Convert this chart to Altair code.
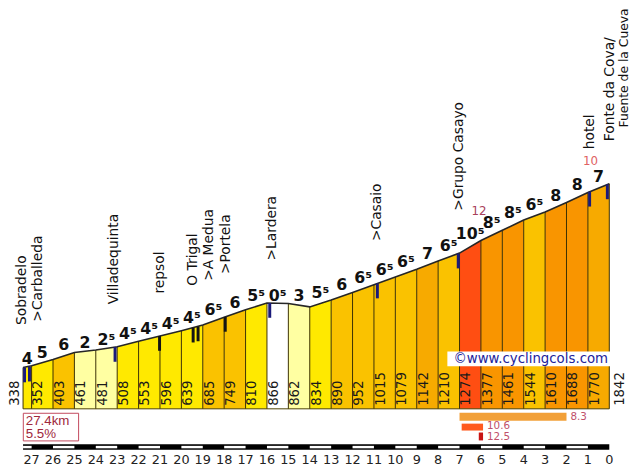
import altair as alt
import pandas as pd

# ---------------- data ----------------
km_points = [27.4, 27, 26, 25, 24, 23, 22, 21, 20, 19, 18, 17, 16, 15, 14,
             13, 12, 11, 10, 9, 8, 7, 6, 5, 4, 3, 2, 1, 0]
altitudes = [338, 352, 403, 461, 481, 508, 553, 596, 639, 685, 749, 810, 866,
             862, 834, 890, 952, 1015, 1079, 1142, 1210, 1274, 1377, 1461,
             1544, 1610, 1688, 1770, 1842]
grade_labels = ["4", "5", "6", "2", "2⁵", "4⁵", "4⁵", "4⁵", "4⁵", "6⁵", "6",
                "5⁵", "0⁵", "3", "5⁵", "6", "6⁵", "6⁵", "6⁵", "7", "6⁵",
                "10⁵", "8⁵", "8⁵", "6⁵", "8", "8", "7"]
grade_class = ["y", "y", "g", "p", "p", "y", "y", "y", "y", "g", "g", "y",
               "w", "p", "y", "g", "g", "g", "g", "a", "g", "r", "o", "o",
               "g", "o", "o", "a"]
km_ticks = [27, 26, 25, 24, 23, 22, 21, 20, 19, 18, 17, 16, 15, 14, 13, 12,
            11, 10, 9, 8, 7, 6, 5, 4, 3, 2, 1, 0]

place_names = ["Sobradelo", ">Carballeda", "Villadequinta", "repsol",
               "O Trigal", ">A Medua", ">Portela", ">Lardera", ">Casaio",
               ">Grupo Casayo", "hotel", "Fonte da Cova/"]
place_km = [27.46, 26.72, 23.13, 21.0, 19.47, 18.69, 17.9, 15.78, 10.84,
            7.0, 0.92, -0.05]
place_alt = [338, 366, 508, 596, 660, 700, 755, 866, 1025, 1274, 1776, 1842]
summit_second_line = "Fuente de la Cueva"

marker_km = [27.33, 27.1, 23.1, 21.02, 19.45, 19.22, 17.95, 15.87, 10.84,
             7.06, 0.92, 0.09]
marker_alt = [338, 345, 506, 596, 664, 674, 752, 866, 1025, 1270, 1776, 1836]
marker_kind = ["navy", "navy", "navy", "black", "black", "black", "black",
               "navy", "navy", "navy", "navy", "navy"]

peak_labels = ["12", "10"]
peak_km = [6.09, 0.88]
peak_alt = [1368, 1779]

steep_labels = ["8.3", "10.6", "12.5"]
steep_from = [7.0, 6.9, 6.1]
steep_to = [2.0, 5.9, 5.9]

summary_lines = ["27.4km", "5.5%"]
credit = "©www.cyclingcols.com"

# ---------------- styles / layout ----------------
PALETTE = {"w": "#FFFFFF", "p": "#FFFFA2", "y": "#FFE900", "g": "#FAC200",
           "a": "#F7AA00", "o": "#F99500", "r": "#FF4E12"}
MARKER_COLOURS = {"navy": "#1B1B7A", "black": "#141414"}
PEAK_COLOURS = ["#A8405A", "#E06262"]
STEEP_COLOURS = ["#F2A038", "#FF5A1E", "#C81414"]
STEEP_Y = [(407, 415), (418, 425), (427, 435)]
STEEP_TEXT_Y = [411, 420, 431.5]

W, H = 632, 462
PX_KM = 21.67
PX_M = 0.1238
X_KM0 = 609.0
Y_BASE = 403.0
x_dom = [(X_KM0 - W) / PX_KM, X_KM0 / PX_KM]
y_dom = [(Y_BASE - H) / PX_M, Y_BASE / PX_M]
XS = alt.Scale(domain=x_dom, reverse=True, nice=False, zero=False)
YS = alt.Scale(domain=y_dom, nice=False, zero=False)
FONT = "DejaVu Sans"


def X(f, **kw):
    return alt.X(f, type="quantitative", scale=XS, axis=None, **kw)


def Y(f, **kw):
    return alt.Y(f, type="quantitative", scale=YS, axis=None, **kw)


# ---------------- frames ----------------
seg_rows = []
for i in range(len(grade_labels)):
    for j in (i, i + 1):
        seg_rows.append({"seg": i, "km": km_points[j], "alt": altitudes[j],
                         "base": 0, "col": PALETTE[grade_class[i]]})
seg_df = pd.DataFrame(seg_rows)

prof_df = pd.DataFrame({"km": km_points, "alt": altitudes,
                        "base": [0] * len(km_points)})

grade_df = pd.DataFrame({
    "km": [(km_points[i] + km_points[i + 1]) / 2 for i in range(len(grade_labels))],
    "alt": [max(altitudes[i], altitudes[i + 1]) for i in range(len(grade_labels))],
    "label": grade_labels,
})

inner_df = pd.DataFrame({"km": km_points[1:-1],
                         "label": [str(a) for a in altitudes[1:-1]]})
first_df = pd.DataFrame({"km": [km_points[0]], "label": [str(altitudes[0])]})
last_df = pd.DataFrame({"km": [km_points[-1]], "label": [str(altitudes[-1])]})

place_df = pd.DataFrame({"km": place_km, "alt": place_alt, "label": place_names})
fuente_df = pd.DataFrame({"km": [place_km[-1]], "alt": [place_alt[-1]],
                          "label": [summit_second_line]})

marker_df = pd.DataFrame({"km": marker_km, "alt": marker_alt,
                          "alt2": [a - 15 / PX_M for a in marker_alt],
                          "col": [MARKER_COLOURS[k] for k in marker_kind]})

peak_df = pd.DataFrame({"km": peak_km, "alt": peak_alt, "label": peak_labels,
                        "col": PEAK_COLOURS})

tick_df = pd.DataFrame({"km": km_ticks, "label": [str(k) for k in km_ticks]})

white_pairs = [(km_points[0], km_points[1])] + [
    (k, k - 1) for k in km_ticks if k % 2 == 0 and k > 0]
white_df = pd.DataFrame({"a": [p[0] for p in white_pairs],
                         "b": [p[1] for p in white_pairs]})
bar_df = pd.DataFrame({"a": [km_points[0]], "b": [km_points[-1]], "base": [0]})

# ---------------- layers ----------------
layers = []

layers.append(alt.Chart(seg_df).mark_area(opacity=1).encode(
    x=X("km"), y=Y("alt", stack=None), y2="base",
    color=alt.Color("col:N", scale=None), detail="seg:N"))

layers.append(alt.Chart(prof_df).mark_rule(color="#3a3000", strokeWidth=1).encode(
    x=X("km"), y=Y("alt"), y2="base"))

layers.append(alt.Chart(bar_df).mark_rule(color="#4a4000", strokeWidth=1).encode(
    x=X("a"), x2="b", y=Y("base")))

layers.append(alt.Chart(prof_df).mark_line(color="#262626", strokeWidth=1.6).encode(
    x=X("km"), y=Y("alt")))

alt_text = dict(angle=270, align="left", baseline="middle", fontSize=13.5,
                font=FONT, color="#1a1a1a")
layers.append(alt.Chart(inner_df).mark_text(dy=7, **alt_text).encode(
    x=X("km"), y=alt.value(400), text="label:N"))
layers.append(alt.Chart(first_df).mark_text(dy=-8, **alt_text).encode(
    x=X("km"), y=alt.value(400), text="label:N"))
layers.append(alt.Chart(last_df).mark_text(dy=11, **alt_text).encode(
    x=X("km"), y=alt.value(400), text="label:N"))

layers.append(alt.Chart(grade_df).mark_text(
    fontWeight="bold", fontSize=16, font=FONT, baseline="alphabetic", dy=-2,
    color="#111111").encode(x=X("km"), y=Y("alt"), text="label:N"))

place_text = dict(angle=270, align="left", baseline="middle",
                  font=FONT, color="#111111")
layers.append(alt.Chart(place_df).mark_text(dx=43, fontSize=14, **place_text).encode(
    x=X("km"), y=Y("alt"), text="label:N"))
layers.append(alt.Chart(fuente_df).mark_text(dx=57, dy=14, fontSize=12.5,
                                             **place_text).encode(
    x=X("km"), y=Y("alt"), text="label:N"))

layers.append(alt.Chart(marker_df).mark_rule(strokeWidth=3).encode(
    x=X("km"), y=Y("alt"), y2="alt2", color=alt.Color("col:N", scale=None)))

layers.append(alt.Chart(peak_df).mark_text(fontSize=12, font=FONT, dy=-31,
                                           baseline="middle").encode(
    x=X("km"), y=Y("alt"), text="label:N", color=alt.Color("col:N", scale=None)))

credit_df = pd.DataFrame({"t": [credit]})
layers.append(alt.Chart(credit_df).mark_rect(color="white").encode(
    x=alt.value(445), x2=alt.value(614), y=alt.value(345), y2=alt.value(360)))
layers.append(alt.Chart(credit_df).mark_text(
    fontSize=13.5, font=FONT, color="#22229A", baseline="middle").encode(
    x=alt.value(529.5), y=alt.value(352.5), text="t:N"))

for i in range(len(steep_labels)):
    sdf = pd.DataFrame({"a": [steep_from[i]], "b": [steep_to[i]],
                        "label": [steep_labels[i]]})
    layers.append(alt.Chart(sdf).mark_rect(color=STEEP_COLOURS[i]).encode(
        x=X("a"), x2="b", y=alt.value(STEEP_Y[i][0]), y2=alt.value(STEEP_Y[i][1])))
    layers.append(alt.Chart(sdf).mark_text(
        align="left", baseline="middle", dx=4, fontSize=10.5, font=FONT,
        color="#C0506A").encode(x=X("b"), y=alt.value(STEEP_TEXT_Y[i]),
                               text="label:N"))

layers.append(alt.Chart(pd.DataFrame({"t": [summary_lines[0]]})).mark_rect(
    fill="white", stroke="#C2485C", strokeWidth=1).encode(
    x=alt.value(15.5), x2=alt.value(71.5), y=alt.value(407.5), y2=alt.value(435.5)))
layers.append(alt.Chart(pd.DataFrame({"t": [summary_lines[0]]})).mark_text(
    align="left", baseline="middle", fontSize=13.5, font="Liberation Sans",
    color="#A0283C").encode(x=alt.value(18), y=alt.value(415), text="t:N"))
layers.append(alt.Chart(pd.DataFrame({"t": [summary_lines[1]]})).mark_text(
    align="left", baseline="middle", fontSize=13.5, font="Liberation Sans",
    color="#A0283C").encode(x=alt.value(18), y=alt.value(429), text="t:N"))

layers.append(alt.Chart(bar_df).mark_rect(color="#000000").encode(
    x=X("a"), x2="b", y=alt.value(439), y2=alt.value(444.5)))
layers.append(alt.Chart(white_df).mark_rect(color="#FFFFFF").encode(
    x=X("a"), x2="b", y=alt.value(440.5), y2=alt.value(443)))

layers.append(alt.Chart(tick_df).mark_text(
    fontSize=13, font=FONT, color="#222222", baseline="middle").encode(
    x=X("km"), y=alt.value(455), text="label:N"))

chart = alt.layer(*layers).properties(
    width=W, height=H, padding=0,
    autosize=alt.AutoSizeParams(type="none"),
    background="white",
).configure_view(strokeWidth=0)

chart.save("out.html", embed_options={"renderer": "svg", "actions": False})
